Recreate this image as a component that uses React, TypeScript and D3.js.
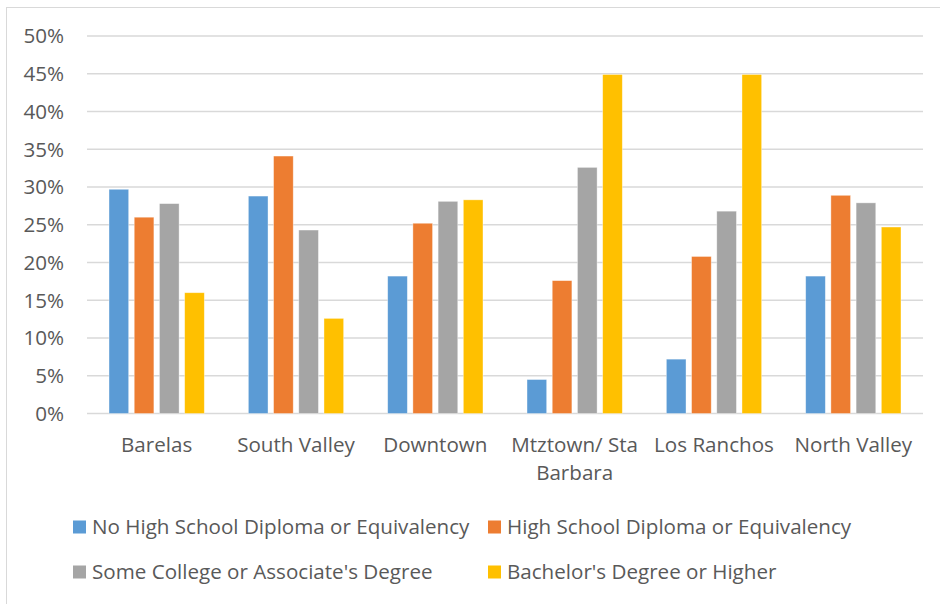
import React from "react";
import * as d3 from "d3";

// Educational attainment by neighborhood (share of adults)
const neighborhoods = ["Barelas", "South Valley", "Downtown", "Mtztown/ Sta Barbara", "Los Ranchos", "North Valley"];
const neighborhoodLines = [["Barelas"], ["South Valley"], ["Downtown"], ["Mtztown/ Sta", "Barbara"], ["Los Ranchos"], ["North Valley"]];

const seriesNames = [
  "No High School Diploma or Equivalency",
  "High School Diploma or Equivalency",
  "Some College or Associate's Degree",
  "Bachelor's Degree or Higher",
];
const seriesColors = ["#5B9BD5", "#ED7D31", "#A5A5A5", "#FFC000"];

const noDiploma = [29.7, 28.8, 18.2, 4.5, 7.2, 18.2];
const hsDiploma = [26.0, 34.1, 25.2, 17.6, 20.8, 28.9];
const someCollege = [27.8, 24.3, 28.1, 32.6, 26.8, 27.9];
const bachelors = [16.0, 12.6, 28.3, 44.9, 44.9, 24.7];

const yTicks = [0, 5, 10, 15, 20, 25, 30, 35, 40, 45, 50];

const W = 940;
const H = 604;
const plot = { left: 87, right: 923, top: 36, bottom: 413.5 };
const FONT = "'Open Sans', sans-serif";
const FS = 20.6;
const TEXT = "#595959";

export default function App() {
  const series = [noDiploma, hsDiploma, someCollege, bachelors];

  const x = d3.scaleBand<string>().domain(neighborhoods).range([plot.left, plot.right]).paddingInner(0).paddingOuter(0);
  const groupWidth = x.bandwidth() * 0.684;
  const inner = d3
    .scaleBand<number>()
    .domain(d3.range(series.length))
    .range([0, groupWidth])
    .paddingInner(0.22)
    .paddingOuter(0);
  const groupOffset = (x.bandwidth() - groupWidth) / 2;
  const y = d3.scaleLinear().domain([0, 50]).range([plot.bottom, plot.top]);

  const legendCols = [73, 488];
  const legendRows = [527, 572];

  return (
    <svg width={W} height={H} style={{ position: "absolute", left: 0, top: 0, background: "#fff" }}>
      <rect x={6.5} y={7.5} width={W} height={H - 4} fill="#fff" stroke="#D9D9D9" strokeWidth={1} />

      {yTicks.map((t) => (
        <g key={t}>
          <line x1={plot.left} x2={plot.right} y1={y(t)} y2={y(t)} stroke="#D9D9D9" strokeWidth={1.3} />
          <text x={64} y={y(t)} dy="0.36em" textAnchor="end" fontFamily={FONT} fontSize={FS} fill={TEXT}>
            {t}%
          </text>
        </g>
      ))}

      {series.map((vals, si) =>
        vals.map((v, ci) => (
          <rect
            key={`${si}-${ci}`}
            x={(x(neighborhoods[ci]) as number) + groupOffset + (inner(si) as number)}
            y={y(v)}
            width={inner.bandwidth()}
            height={y(0) - y(v)}
            fill={seriesColors[si]}
            stroke="#fff"
            strokeOpacity={0.5}
            strokeWidth={0.75}
          />
        ))
      )}

      {neighborhoodLines.map((lines, ci) => {
        const cx = (x(neighborhoods[ci]) as number) + x.bandwidth() / 2;
        return (
          <text key={ci} x={cx} y={452} textAnchor="middle" fontFamily={FONT} fontSize={FS} fill={TEXT}>
            {lines.map((ln, li) => (
              <tspan key={li} x={cx} dy={li === 0 ? 0 : 28}>
                {ln}
              </tspan>
            ))}
          </text>
        );
      })}

      {seriesNames.map((name, si) => {
        const lx = legendCols[si % 2];
        const ly = legendRows[Math.floor(si / 2)];
        return (
          <g key={name}>
            <rect x={lx} y={ly - 6.5} width={13} height={13} fill={seriesColors[si]} />
            <text x={lx + 19} y={ly} dy="0.36em" fontFamily={FONT} fontSize={FS} fill={TEXT}>
              {name}
            </text>
          </g>
        );
      })}
    </svg>
  );
}
